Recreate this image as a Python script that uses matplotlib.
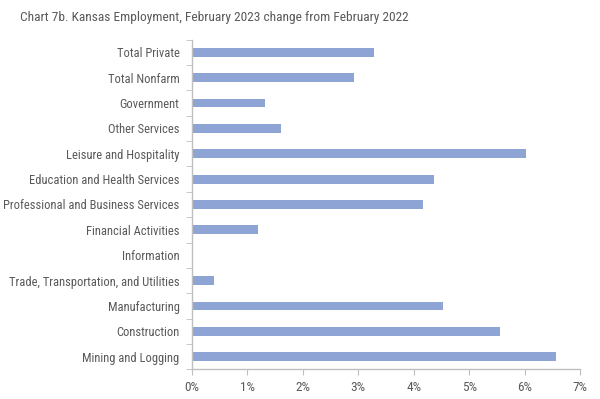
import matplotlib
matplotlib.use("Agg")
import matplotlib.pyplot as plt
import numpy as np
from matplotlib.ticker import FuncFormatter, FixedLocator

categories = ["Total Private", "Total Nonfarm", "Government", "Other Services",
              "Leisure and Hospitality", "Education and Health Services",
              "Professional and Business Services", "Financial Activities",
              "Information", "Trade, Transportation, and Utilities",
              "Manufacturing", "Construction", "Mining and Logging"]
values = [3.28, 2.93, 1.32, 1.61, 6.02, 4.37, 4.16, 1.19, 0.0, 0.40, 4.52, 5.56, 6.56]
xticks = [0, 1, 2, 3, 4, 5, 6, 7]

plt.rcParams['font.family'] = ['Roboto Condensed', 'Archivo Narrow', 'PT Sans Narrow', 'DejaVu Sans']
text_color = '#595959'
axis_color = '#BFBFBF'

fig = plt.figure(figsize=(6, 3.99), dpi=100)
ax = fig.add_axes([0.32, 0.0742, 0.6467, 0.8266])

y = np.arange(len(categories))
ax.barh(y, values, height=0.35, color='#8EA4D5', edgecolor='none')
ax.set_ylim(len(categories) - 0.5, -0.5)
ax.set_xlim(0, 7)

ax.set_yticks(y)
ax.set_yticklabels(categories, fontsize=9, color=text_color)
ax.tick_params(axis='y', which='major', length=0, pad=9)
ax.yaxis.set_minor_locator(FixedLocator(np.arange(-0.5, len(categories), 1.0)))
ax.tick_params(axis='y', which='minor', length=4, color=axis_color, direction='out')

ax.set_xticks(xticks)
ax.xaxis.set_major_formatter(FuncFormatter(lambda v, p: f"{v:.0f}%"))
ax.tick_params(axis='x', length=4, color=axis_color, labelsize=9.5, labelcolor=text_color, pad=4)

for s in ['top', 'right']:
    ax.spines[s].set_visible(False)
for s in ['left', 'bottom']:
    ax.spines[s].set_color(axis_color)
    ax.spines[s].set_linewidth(1.0)

fig.text(20/600, 1 - 18/399, "Chart 7b. Kansas Employment, February 2023 change from February 2022",
         fontsize=9.6, color=text_color, va='center', ha='left')

fig.savefig("out.png", dpi=100)
